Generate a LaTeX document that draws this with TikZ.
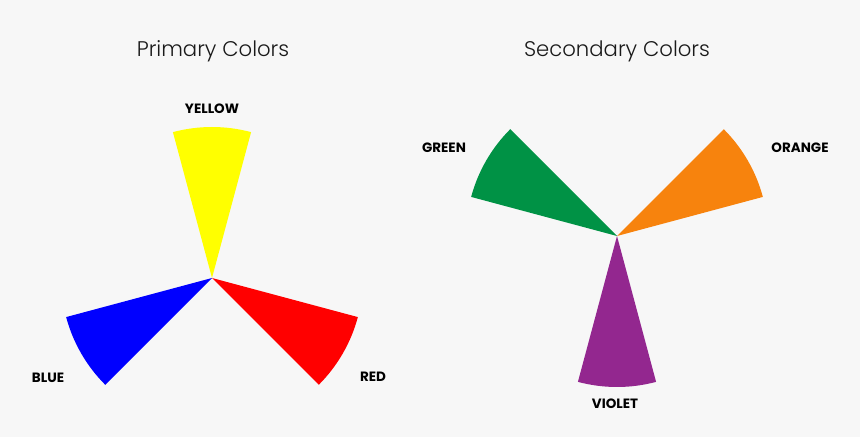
\documentclass[tikz,border=0pt]{standalone}
\usepackage{fontspec}
\setmainfont{Poppins}
\newfontfamily\thinfont{Poppins Light}
\definecolor{bg}{HTML}{F7F7F7}
\definecolor{pyellow}{HTML}{FFFF00}
\definecolor{pblue}{HTML}{0000FF}
\definecolor{pred}{HTML}{FF0000}
\definecolor{sgreen}{HTML}{009245}
\definecolor{sorange}{HTML}{F7830D}
\definecolor{sviolet}{HTML}{93278F}
\definecolor{txt}{HTML}{1A1A1A}
\tikzset{
  title/.style={font=\thinfont\fontsize{21.2}{25}\selectfont, text=txt, inner sep=0pt},
  lbl/.style={font=\bfseries\fontsize{13.5}{16}\selectfont, text=black, inner sep=0pt},
}
\begin{document}
\begin{tikzpicture}[x=1pt,y=1pt]
\fill[bg] (0,0) rectangle (860,437);
\useasboundingbox (0,0) rectangle (860,437);
\coordinate (P) at (212,159);
\coordinate (S) at (617,201);
% primary wedges
\fill[pyellow] (P) -- ++(75:151pt) arc[start angle=75, end angle=105, radius=151pt] -- cycle;
\fill[pblue] (P) -- ++(195:151pt) arc[start angle=195, end angle=225, radius=151pt] -- cycle;
\fill[pred] (P) -- ++(-45:151pt) arc[start angle=-45, end angle=-15, radius=151pt] -- cycle;
% secondary wedges
\fill[sgreen] (S) -- ++(135:151pt) arc[start angle=135, end angle=165, radius=151pt] -- cycle;
\fill[sorange] (S) -- ++(15:151pt) arc[start angle=15, end angle=45, radius=151pt] -- cycle;
\fill[sviolet] (S) -- ++(255:151pt) arc[start angle=255, end angle=285, radius=151pt] -- cycle;
% titles
\node[title] (t1) at (213,386) {Primary Colors};
\node[title] (t2) at (617,386) {Secondary Colors};
% labels
\node[lbl] (ly) at (212,328) {YELLOW};
\node[lbl] (lb) at (48,59) {BLUE};
\node[lbl] (lr) at (373,60) {RED};
\node[lbl] (lg) at (444,289) {GREEN};
\node[lbl] (lo) at (800,289) {ORANGE};
\node[lbl] (lv) at (615,33) {VIOLET};
\end{tikzpicture}
\end{document}
